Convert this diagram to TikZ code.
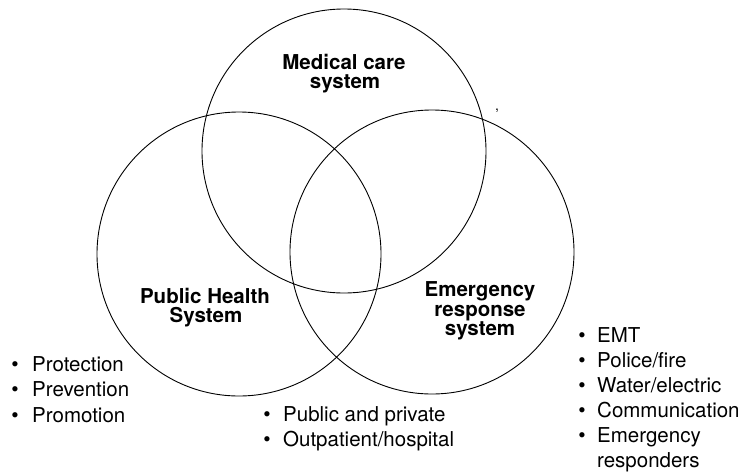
\documentclass[tikz,border=0pt]{standalone}
\usepackage{fontspec}
\setmainfont{TeX Gyre Heros}
\begin{document}
\begin{tikzpicture}[x=1pt,y=-1pt,
  venn/.style={draw, circle, line width=0.9pt, minimum size=284pt, inner sep=0pt},
  lbl/.style={anchor=base, inner sep=0pt, font=\fontsize{20.5}{19}\selectfont\bfseries},
  bul/.style={anchor=base, inner sep=0pt, font=\fontsize{21}{25}\selectfont},
  itm/.style={anchor=base west, inner sep=0pt, font=\fontsize{20.5}{25}\selectfont}]
\useasboundingbox (0,0) rectangle (745,475);
% circles
\node[venn] (med) at (344,151) {};
\node[venn] (pub) at (239,254) {};
\node[venn] (emg) at (432,252) {};
% labels
\node[lbl] (medA) at (344,69) {Medical care};
\node[lbl] (medB) at (345,88.5) {system};
\node[lbl] (pubA) at (205,303) {Public Health};
\node[lbl] (pubB) at (206,322.5) {System};
\node[lbl] (emgA) at (480,296.7) {Emergency};
\node[lbl] (emgB) at (480,316) {response};
\node[lbl] (emgC) at (480,335.5) {system};
% stray mark
\node[anchor=base, inner sep=0pt, font=\fontsize{14}{14}\selectfont] (tick) at (497,110) {,};
% left list
\node[bul] (lb1) at (15,371) {•}; \node[itm] (lt1) at (32,371) {Protection};
\node[bul] (lb2) at (15,396.5) {•}; \node[itm] (lt2) at (32,396.5) {Prevention};
\node[bul] (lb3) at (15,422) {•}; \node[itm] (lt3) at (32,422) {Promotion};
% bottom list
\node[bul] (bb1) at (267,421.7) {•}; \node[itm] (bt1) at (283,421.7) {Public and private};
\node[bul] (bb2) at (267,446.7) {•}; \node[itm] (bt2) at (283,446.7) {Outpatient/hospital};
% right list
\node[bul] (rb1) at (582,342.5) {•}; \node[itm] (rt1) at (597,342.5) {EMT};
\node[bul] (rb2) at (582,367.5) {•}; \node[itm] (rt2) at (597,367.5) {Police/fire};
\node[bul] (rb3) at (582,392.5) {•}; \node[itm] (rt3) at (597,392.5) {Water/electric};
\node[bul] (rb4) at (582,417.5) {•}; \node[itm] (rt4) at (597,417.5) {Communication};
\node[bul] (rb5) at (582,442.5) {•}; \node[itm] (rt5) at (597,442.5) {Emergency};
\node[itm] (rt6) at (597,467.5) {responders};
\end{tikzpicture}
\end{document}
